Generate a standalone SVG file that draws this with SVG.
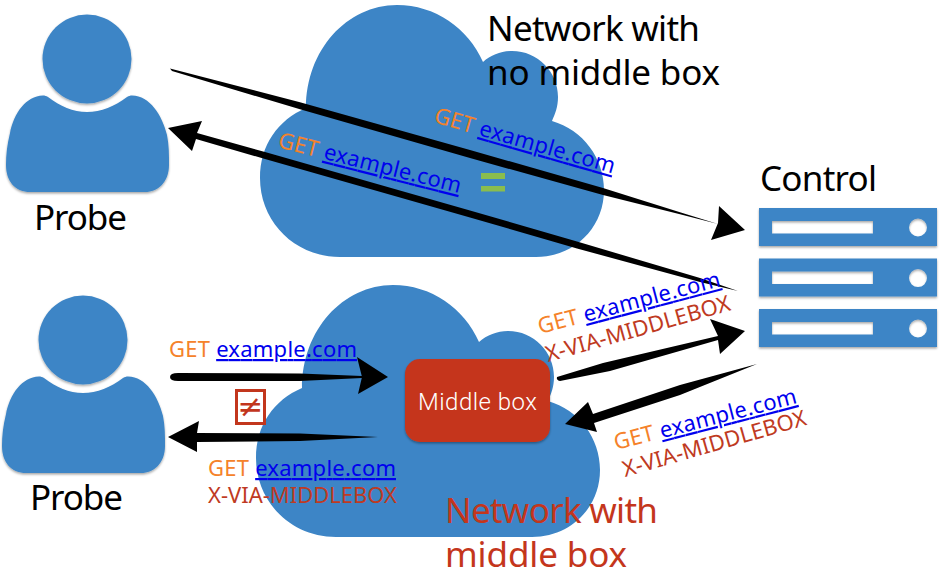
<svg xmlns="http://www.w3.org/2000/svg" width="945" height="579" viewBox="0 0 945 579">
<style>
text{font-family:"Noto Sans","Open Sans",sans-serif}
.blue{fill:#3d85c6}
.big{font-size:35px}
.black{fill:#000}
.red{fill:#c4361c}
.lab{font-size:22px}
.get{fill:#f5822a}
.lnk{fill:#0000ee;text-decoration:underline}
.via{fill:#bf3a22}
.shaft{fill:#000}
</style>
<defs>
<filter id="sh" x="-10%" y="-10%" width="120%" height="120%"><feDropShadow dx="0" dy="1.5" stdDeviation="1" flood-color="#000" flood-opacity=".35"/></filter>
<path id="cloud" d="M340 257C295 257 260 222 260 178C260 145 278 120 306 108C306 50 347 5 397 5C435 5 468 28 483 62C491 55 501 51 512 51C538 51 558 72 558 97C558 107 555 114 552 121C583 130 604 158 604 190C604 228 574 257 536 257Z"/>
<g id="person">
<circle cx="87" cy="59" r="44.5"/>
<path d="M48 97C60 106 73 112 87 112C101 112 115 106 127 97C129 96 130 95.5 132 95.5C150 96 162 115 167 135C169 145 169 155 169 165C169 182 158 192 145 192L30 192C16 192 6 182 6 165C6 155 7 145 10 133C14 113 26 96 43 95.5C45 95.5 46 96 48 97Z"/>
</g>
<g id="rack">
<path fill-rule="evenodd" d="M759 208H937V246H759ZM772 221V233.5H873V221ZM927 227.5A9 9 0 1 0 909 227.5A9 9 0 1 0 927 227.5Z"/>
</g>
</defs>

<g id="cloud-top"><use href="#cloud" class="blue"/></g>
<g id="cloud-bottom"><use href="#cloud" class="blue" transform="translate(-4 280)"/></g>

<g id="probe-top">
<use href="#person" class="blue" filter="url(#sh)"/>
<text class="big black" x="34" y="230" textLength="93">Probe</text>
</g>
<g id="probe-bottom">
<use href="#person" class="blue" filter="url(#sh)" transform="translate(-4 281)"/>
<text class="big black" x="30" y="510" textLength="93">Probe</text>
</g>

<g id="control">
<text class="big black" x="760" y="191" textLength="117">Control</text>
<use href="#rack" class="blue" filter="url(#sh)"/>
<use href="#rack" class="blue" filter="url(#sh)" y="50.6"/>
<use href="#rack" class="blue" filter="url(#sh)" y="101"/>
</g>

<g id="middle-box">
<rect x="405" y="359" width="145" height="83" rx="15" fill="#c5351c" filter="url(#sh)"/>
<text x="418" y="410" fill="#fff" font-size="24" textLength="119" style="font-family:Roboto,sans-serif;font-weight:300">Middle box</text>
</g>

<g id="title-top">
<text class="big black" x="487" y="41" textLength="213">Network with</text>
<text class="big black" x="487" y="85" textLength="233">no middle box</text>
</g>
<g id="title-bottom">
<text class="big red" x="445" y="523" textLength="213">Network with</text>
<text class="big red" x="445" y="567" textLength="182">middle box</text>
</g>

<g id="connectors">
<path class="shaft" d="M170 68.500L300 102.300L470 150L603 188L680 212.300L718 224L680 214.300L603 195L470 158L300 109.300L172 71Z"/>
<path class="shaft" d="M719 206L745 230L711 240L718 223Z"/>
<path class="shaft" d="M168 128L202 121L197 133L265 152L470 210.500L577 241.500L700 278L738 291L700 282L577 248.500L470 217.500L265 159L196 139L192 151Z"/>
<path class="shaft" d="M170 377Q170 373 178 373L300 373.500L362 376L362 378L300 381L178 381Q170 381 170 377Z"/>
<path class="shaft" d="M357 357L388 377L358 394L362 377Z"/>
<path class="shaft" d="M168 437L199 421L197 433L300 433.500L378 437L300 441L197 442L197 452Z"/>
<path class="shaft" d="M557 377L603 363L718 336L710 319L745 331L720 354L718 340L610 371L560 381Q556 380 557 377Z"/>
<path class="shaft" d="M757 364L680 385L593 414L588 402L565 424L597 432L594 423L680 395Z"/>
</g>

<g id="labels">
<text class="lab" transform="translate(433 122) rotate(16)" textLength="187"><tspan class="get">GET </tspan><tspan class="lnk">example.com</tspan></text>
<text class="lab" transform="translate(277 147) rotate(14.200)" textLength="188"><tspan class="get">GET </tspan><tspan class="lnk">example.com</tspan></text>
<text class="lab" x="169" y="357" textLength="188"><tspan class="get">GET </tspan><tspan class="lnk">example.com</tspan></text>
<text class="lab" x="208" y="476" textLength="188"><tspan class="get">GET </tspan><tspan class="lnk">example.com</tspan></text>
<text class="lab via" x="208" y="503" textLength="189">X-VIA-MIDDLEBOX</text>
<text class="lab" transform="translate(540 334) rotate(-14.800)" textLength="188"><tspan class="get">GET </tspan><tspan class="lnk">example.com</tspan></text>
<text class="lab via" transform="translate(548 362) rotate(-15.800)" textLength="191">X-VIA-MIDDLEBOX</text>
<text class="lab" transform="translate(616 450) rotate(-14.500)" textLength="188"><tspan class="get">GET </tspan><tspan class="lnk">example.com</tspan></text>
<text class="lab via" transform="translate(625 477) rotate(-16)" textLength="190">X-VIA-MIDDLEBOX</text>
</g>

<g id="equal-sign">
<rect x="481" y="173" width="24" height="6" fill="#8abd4e"/>
<rect x="481" y="186" width="24" height="5.500" fill="#8abd4e"/>
</g>
<g id="not-equal">
<rect x="236.500" y="390.500" width="28" height="33" fill="none" stroke="#c2361d" stroke-width="3"/>
<text x="250.500" y="417" font-size="31" text-anchor="middle" fill="#c2361d" style="font-family:'DejaVu Sans',sans-serif">≠</text>
</g>
</svg>
